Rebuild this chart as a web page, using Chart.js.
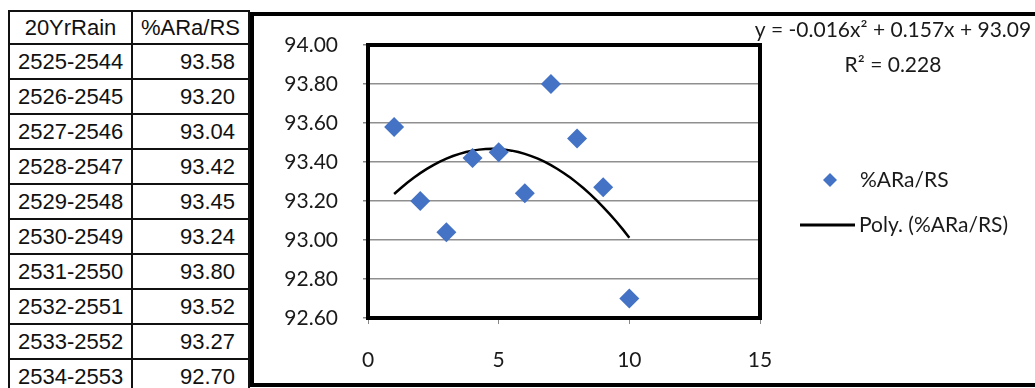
<!DOCTYPE html>
<html>
<head>
<meta charset="utf-8">
<script src="https://cdn.jsdelivr.net/npm/chart.js@4.4.0/dist/chart.umd.min.js"></script>
<style>
  body { margin: 0; background: #fff; width: 1035px; height: 388px; overflow: hidden; position: relative; }
  #tbl { position: absolute; left: 8px; top: 10px; border-collapse: collapse; font-family: "Liberation Sans", Arial, sans-serif; font-size: 22px; color: #111; }
  #tbl td { border: 2px solid #111; padding: 0; white-space: nowrap; }
  #tbl tr { height: 35px; }
  #tbl tr.head { height: 33px; }
  #tbl td.c1 { width: 113px; padding-left: 8px; }
  #tbl td.c2 { width: 102px; text-align: right; padding-right: 13px; }
  #tbl tr.head td { text-align: center; padding: 0; }
  #box { position: absolute; left: 250px; top: 12px; width: 800px; height: 367px; border: 4px solid #000; }
  #wrap { position: absolute; left: 254px; top: 16px; width: 781px; height: 367px; }
</style>
</head>
<body>
<table id="tbl"></table>
<div id="box"></div>
<div id="wrap"><canvas id="chart" width="781" height="367"></canvas></div>
<script>
var periods = [
  "2525-2544", "2526-2545", "2527-2546", "2528-2547", "2529-2548",
  "2530-2549", "2531-2550", "2532-2551", "2533-2552", "2534-2553",
];
var xValues = [1, 2, 3, 4, 5, 6, 7, 8, 9, 10];
var araRs = [93.58, 93.20, 93.04, 93.42, 93.45, 93.24, 93.80, 93.52, 93.27, 92.70];
var seriesName = "%ARa/RS";
var trendName = "Poly. (%ARa/RS)";
var equationText = "y = -0.016x\u00b2 + 0.157x + 93.09";
var r2Text = "R\u00b2 = 0.228";

// table on the left
var tbl = document.getElementById("tbl");
var html = '<tr class="head"><td class="c1">20YrRain</td><td class="c2">' + seriesName + "</td></tr>";
for (var i = 0; i < periods.length; i++) {
  html += '<tr><td class="c1">' + periods[i] + '</td><td class="c2">' + araRs[i].toFixed(2) + "</td></tr>";
}
tbl.innerHTML = html;

// least squares fit of order 2 (same as the Excel poly trendline)
function polyFit2(xs, ys) {
  var s = [0, 0, 0, 0, 0], t = [0, 0, 0];
  for (var i = 0; i < xs.length; i++) {
    var p = 1;
    for (var k = 0; k < 5; k++) { s[k] += p; if (k < 3) t[k] += p * ys[i]; p *= xs[i]; }
  }
  var m = [[s[0], s[1], s[2], t[0]], [s[1], s[2], s[3], t[1]], [s[2], s[3], s[4], t[2]]];
  for (var c = 0; c < 3; c++) {
    for (var r = c + 1; r < 3; r++) {
      var f = m[r][c] / m[c][c];
      for (var j = c; j < 4; j++) m[r][j] -= f * m[c][j];
    }
  }
  var a = [0, 0, 0];
  for (var r = 2; r >= 0; r--) {
    var v = m[r][3];
    for (var j = r + 1; j < 3; j++) v -= m[r][j] * a[j];
    a[r] = v / m[r][r];
  }
  return a;
}
var coef = polyFit2(xValues, araRs);
var trend = [];
for (var x = xValues[0]; x <= xValues[xValues.length - 1] + 1e-9; x += 0.25) {
  trend.push({ x: x, y: coef[0] + coef[1] * x + coef[2] * x * x });
}

var blue = "#4472C4";
var font = "Lato";

var plotFrame = {
  id: "plotFrame",
  beforeDatasetsDraw: function (chart) {
    var a = chart.chartArea, ctx = chart.ctx;
    ctx.save();
    ctx.strokeStyle = "#000";
    ctx.lineWidth = 4;
    ctx.strokeRect(a.left, a.top, a.right - a.left, a.bottom - a.top);
    ctx.restore();
  },
  afterDraw: function (chart) {
    var ctx = chart.ctx;
    ctx.save();
    ctx.fillStyle = "#1a1a1a";
    ctx.font = "21px " + font;
    ctx.textAlign = "center";
    ctx.textBaseline = "alphabetic";
    ctx.fillText(equationText, 639, 21);
    ctx.fillText(r2Text, 639, 56);
    // legend
    ctx.textAlign = "left";
    ctx.fillText(seriesName, 606, 171);
    ctx.fillText(trendName, 605, 216);
    ctx.fillStyle = blue;
    ctx.beginPath();
    ctx.moveTo(576 - 7, 164);
    ctx.lineTo(576, 157);
    ctx.lineTo(576 + 7, 164);
    ctx.lineTo(576, 171);
    ctx.closePath();
    ctx.fill();
    ctx.strokeStyle = "#000";
    ctx.lineWidth = 3;
    ctx.beginPath();
    ctx.moveTo(546, 209);
    ctx.lineTo(601, 209);
    ctx.stroke();
    ctx.restore();
  },
};

var ctx = document.getElementById("chart").getContext("2d");
var chart = new Chart(ctx, {
  type: "scatter",
  data: {
    datasets: [
      {
        label: seriesName,
        data: xValues.map(function (x, i) { return { x: x, y: araRs[i] }; }),
        pointStyle: "rectRot",
        pointRadius: 10,
        pointHoverRadius: 10,
        backgroundColor: blue,
        borderColor: blue,
        borderWidth: 0,
        showLine: false,
      },
      {
        label: trendName,
        data: trend,
        showLine: true,
        pointRadius: 0,
        borderColor: "#000",
        borderWidth: 2.5,
        fill: false,
      },
    ],
  },
  options: {
    responsive: false,
    maintainAspectRatio: false,
    animation: false,
    events: [],
    layout: { padding: { left: 0, top: 29, right: 275, bottom: 0 } },
    plugins: { legend: { display: false }, tooltip: { enabled: false } },
    scales: {
      x: {
        type: "linear",
        min: 0,
        max: 15,
        ticks: { stepSize: 5, padding: 24, color: "#1a1a1a", font: { family: font, size: 21 } },
        grid: { drawOnChartArea: false, drawTicks: true, tickLength: 6, tickColor: "#888" },
        border: { display: false },
        afterFit: function (s) { s.height = 65; },
      },
      y: {
        min: 92.6,
        max: 94.0,
        ticks: {
          stepSize: 0.2,
          padding: 25,
          color: "#1a1a1a",
          font: { family: font, size: 21 },
          callback: function (v) { return Number(v).toFixed(2); },
        },
        grid: { color: "#8f8f8f", lineWidth: 1.5, tickLength: 5, tickColor: "#888" },
        border: { display: false },
        afterFit: function (s) { s.width = 114; s.paddingTop = 0; s.paddingBottom = 0; },
      },
    },
  },
  plugins: [plotFrame],
});
</script>
</body>
</html>
